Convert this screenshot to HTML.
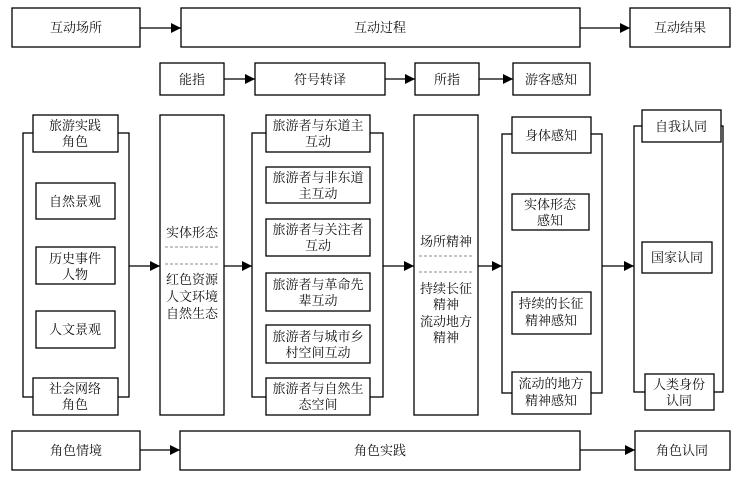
<!DOCTYPE html>
<html><head><meta charset="utf-8"><style>
body{margin:0;background:#fff;width:746px;height:491px;overflow:hidden}
svg text{font-family:"Liberation Serif","Noto Serif CJK SC",serif;font-size:13px;fill:#111;text-anchor:middle}
</style></head><body>
<svg width="746" height="491" viewBox="0 0 746 491">
<defs><marker id="a" markerWidth="10" markerHeight="10" refX="10" refY="5" orient="auto" markerUnits="userSpaceOnUse"><path d="M0,0L10,5L0,10z" fill="#000"/></marker></defs>
<g fill="#fff" stroke="#000" stroke-width="1.3">
<rect x="12" y="8" width="128" height="39"/><rect x="181" y="8" width="399" height="39"/><rect x="630" y="8" width="100" height="39"/>
<rect x="160" y="63" width="64" height="32"/><rect x="255" y="63" width="130" height="32"/><rect x="415" y="63" width="64" height="32"/><rect x="513" y="63" width="77" height="32"/>
<rect x="12" y="431" width="128" height="39"/><rect x="180" y="431" width="400" height="39"/><rect x="635" y="431" width="95" height="39"/>
<rect x="23" y="133" width="106" height="264"/><rect x="252" y="133" width="131" height="264"/><rect x="502" y="134" width="100" height="259"/><rect x="634" y="126" width="89" height="266"/>
<rect x="160" y="115" width="64" height="300"/><rect x="414" y="115" width="64" height="300"/>
<rect x="33" y="115" width="85" height="37"/><rect x="36" y="183" width="79" height="36"/><rect x="36" y="247" width="79" height="37"/><rect x="36" y="311" width="79" height="37"/><rect x="33" y="378" width="85" height="37"/>
<rect x="266" y="115" width="104" height="37"/><rect x="266" y="167" width="104" height="36"/><rect x="266" y="219" width="104" height="37"/><rect x="266" y="273" width="104" height="38"/><rect x="266" y="325" width="104" height="38"/><rect x="266" y="378" width="104" height="37"/>
<rect x="512" y="117" width="79" height="36"/><rect x="512" y="194" width="77" height="36"/><rect x="512" y="292" width="79" height="42"/><rect x="512" y="372" width="79" height="42"/>
<rect x="642" y="110" width="79" height="32"/><rect x="642" y="242" width="70" height="31"/><rect x="645" y="374" width="69" height="36"/>
</g>
<g stroke="#000" stroke-width="1.3" marker-end="url(#a)">
<line x1="140" y1="28" x2="181" y2="28"/><line x1="580" y1="28" x2="630" y2="28"/>
<line x1="224" y1="79" x2="255" y2="79"/><line x1="385" y1="79" x2="415" y2="79"/><line x1="479" y1="79" x2="513" y2="79"/>
<line x1="140" y1="450" x2="180" y2="450"/><line x1="580" y1="450" x2="635" y2="450"/>
<line x1="129" y1="266" x2="160" y2="266"/><line x1="224" y1="266" x2="252" y2="266"/><line x1="383" y1="266" x2="414" y2="266"/><line x1="478" y1="266" x2="502" y2="266"/><line x1="602" y1="266" x2="634" y2="266"/>
</g>
<g stroke="#666" stroke-width="0.8" stroke-dasharray="3,2">
<line x1="165" y1="247" x2="219" y2="247"/><line x1="165" y1="264" x2="219" y2="264"/>
<line x1="419" y1="256" x2="473" y2="256"/><line x1="419" y1="272" x2="473" y2="272"/>
</g>
<text x="76" y="32">互动场所</text><text x="380" y="32">互动过程</text><text x="680" y="32">互动结果</text>
<text x="192" y="84">能指</text><text x="320" y="84">符号转译</text><text x="447" y="84">所指</text><text x="551" y="84">游客感知</text>
<text x="76" y="455">角色情境</text><text x="380" y="455">角色实践</text><text x="682" y="455">角色认同</text>
<text x="75" y="130">旅游实践</text><text x="75" y="146">角色</text>
<text x="75" y="206">自然景观</text>
<text x="75" y="263">历史事件</text><text x="75" y="279">人物</text>
<text x="75" y="334">人文景观</text>
<text x="75" y="393">社会网络</text><text x="75" y="409">角色</text>
<text x="192" y="237">实体形态</text><text x="192" y="284">红色资源</text><text x="192" y="301">人文环境</text><text x="192" y="318">自然生态</text>
<text x="318" y="130">旅游者与东道主</text><text x="318" y="146">互动</text>
<text x="318" y="182">旅游者与非东道</text><text x="318" y="198">主互动</text>
<text x="318" y="234">旅游者与关注者</text><text x="318" y="250">互动</text>
<text x="318" y="289">旅游者与革命先</text><text x="318" y="305">辈互动</text>
<text x="318" y="341">旅游者与城市乡</text><text x="318" y="357">村空间互动</text>
<text x="318" y="393">旅游者与自然生</text><text x="318" y="409">态空间</text>
<text x="446" y="246">场所精神</text><text x="446" y="293">持续长征</text><text x="446" y="309">精神</text><text x="446" y="326">流动地方</text><text x="446" y="342">精神</text>
<text x="551" y="140">身体感知</text>
<text x="550" y="209">实体形态</text><text x="550" y="225">感知</text>
<text x="551" y="308">持续的长征</text><text x="551" y="325">精神感知</text>
<text x="551" y="388">流动的地方</text><text x="551" y="405">精神感知</text>
<text x="681" y="131">自我认同</text><text x="677" y="262">国家认同</text>
<text x="679" y="389">人类身份</text><text x="679" y="405">认同</text>
</svg>
</body></html>
